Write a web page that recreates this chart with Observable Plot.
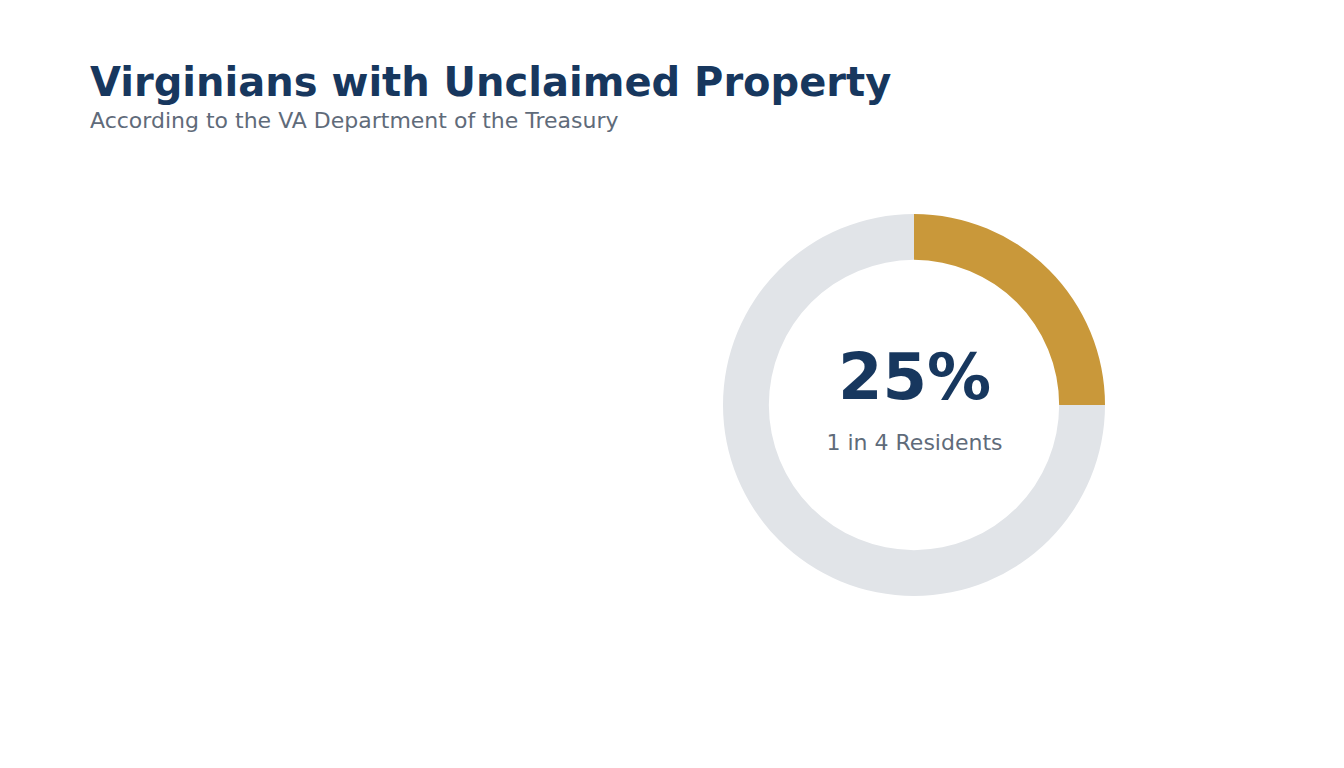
<!DOCTYPE html>
<html>
<head>
<meta charset="utf-8">
<script src="https://cdn.jsdelivr.net/npm/d3@7"></script>
<script src="https://cdn.jsdelivr.net/npm/@observablehq/plot@0.6"></script>
<style>
  html, body { margin: 0; padding: 0; background: #fff; }
  body { width: 1344px; height: 768px; overflow: hidden; font-family: "DejaVu Sans", sans-serif; }
  #header { position: absolute; left: 90px; top: 0; }
  #title { position: absolute; left: 0; top: 62px; white-space: nowrap; font-weight: bold; font-size: 40px; color: #17375E; line-height: 1; }
  #subtitle { position: absolute; left: 0; top: 110px; white-space: nowrap; font-size: 22px; color: #5F6B7A; line-height: 1; }
  #chart { position: absolute; left: 0; top: 150px; }
</style>
</head>
<body>
<div id="header">
  <div id="title">Virginians with Unclaimed Property</div>
  <div id="subtitle">According to the VA Department of the Treasury</div>
</div>
<div id="chart"></div>
<script>
const categories = ["Residents with unclaimed property", "Other residents"];
const shares = [25, 75];
const colors = ["#C9983A", "#E1E4E8"];
const centerLabel = "25%";
const centerSubLabel = "1 in 4 Residents";
const innerRatio = 0.76;

const data = categories.map((c, i) => ({category: c, share: shares[i]}));
const pie = d3.pie().sort(null).value(d => d.share)(data);

function donutMark(index, scales, values, dimensions) {
  const x = scales.x, y = scales.y;
  const cx = x(0), cy = y(0);
  const r = Math.abs(x(1) - x(0));
  const arc = d3.arc().innerRadius(r * innerRatio).outerRadius(r);
  const g = d3.create("svg:g").attr("transform", `translate(${cx},${cy})`);
  g.selectAll("path").data(pie).join("path")
    .attr("d", arc)
    .attr("fill", d => colors[categories.indexOf(d.data.category)]);
  return g.node();
}

const plot = Plot.plot({
  width: 1344,
  height: 508,
  marginLeft: 723,
  marginRight: 239,
  marginTop: 64,
  marginBottom: 62,
  x: {domain: [-1, 1], axis: null},
  y: {domain: [-1, 1], axis: null},
  style: {fontFamily: "DejaVu Sans, sans-serif", background: "#fff"},
  marks: [
    donutMark,
    Plot.text([centerLabel], {x: 0, y: 0, text: d => d, dy: -27, fontSize: 64, fontWeight: "bold", fill: "#17375E"}),
    Plot.text([centerSubLabel], {x: 0, y: 0, text: d => d, dy: 37, fontSize: 22, fill: "#5F6B7A"})
  ]
});
document.getElementById("chart").appendChild(plot);
</script>
</body>
</html>
